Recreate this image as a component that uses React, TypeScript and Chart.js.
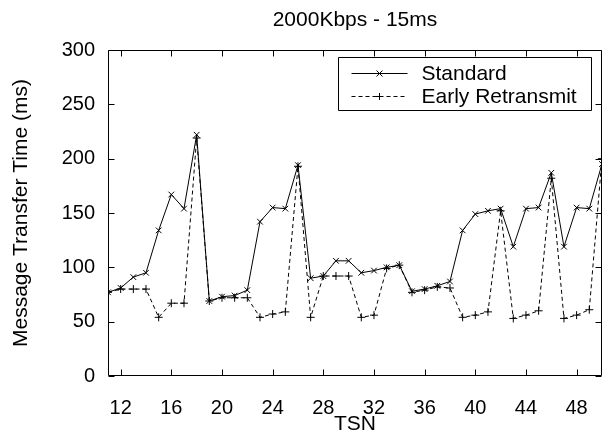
import React, { useEffect, useRef } from "react";
import { Chart, registerables } from "chart.js";

Chart.register(...registerables);

const TITLE = "2000Kbps - 15ms";
const X_LABEL = "TSN";
const Y_LABEL = "Message Transfer Time (ms)";
const SERIES_NAMES = ["Standard", "Early Retransmit"];

const TSN = [11, 12, 13, 14, 15, 16, 17, 18, 19, 20, 21, 22, 23, 24, 25, 26, 27, 28, 29, 30, 31, 32, 33, 34, 35, 36, 37, 38, 39, 40, 41, 42, 43, 44, 45, 46, 47, 48, 49, 50];
const STANDARD = [77, 81, 91, 95, 134, 167, 154, 222, 69, 73, 74, 79, 142, 155, 154, 194, 90, 92, 106, 106, 95, 97, 100, 102, 78, 80, 83, 87, 134, 149, 152, 154, 119, 154, 155, 187, 119, 155, 154, 195];
const EARLY_RETRANSMIT = [77, 80, 80, 80, 54, 67, 67, 219, 69, 72, 72, 72, 54, 57, 59, 193, 54, 92, 92, 92, 54, 56, 99, 102, 77, 79, 82, 81, 54, 56, 59, 152, 53, 56, 60, 182, 53, 56, 61, 200];

const X_TICKS = [12, 16, 20, 24, 28, 32, 36, 40, 44, 48];
const Y_TICKS = [0, 50, 100, 150, 200, 250, 300];
const X_MIN = 11;
const X_MAX = 50;
const Y_MIN = 0;
const Y_MAX = 300;

const FONT = "'Liberation Sans', Arial, Helvetica, sans-serif";
const TICK_SIZE = 20;
const LABEL_SIZE = 21;

function drawMarker(ctx: CanvasRenderingContext2D, style: string, cx: number, cy: number, r: number) {
  ctx.beginPath();
  if (style === "crossRot") {
    ctx.moveTo(cx - r, cy - r);
    ctx.lineTo(cx + r, cy + r);
    ctx.moveTo(cx - r, cy + r);
    ctx.lineTo(cx + r, cy - r);
  } else {
    ctx.moveTo(cx - r, cy);
    ctx.lineTo(cx + r, cy);
    ctx.moveTo(cx, cy - r);
    ctx.lineTo(cx, cy + r);
  }
  ctx.stroke();
}

const framePlugin = {
  id: "frameTicks",
  afterDatasetsDraw(chart: any) {
    const { ctx, chartArea: a, scales } = chart;
    ctx.save();
    ctx.strokeStyle = "#000";
    ctx.lineWidth = 1;
    ctx.setLineDash([]);
    const L = Math.round(a.left) + 0.5;
    const R = Math.round(a.right) - 0.5;
    const T = Math.round(a.top) + 0.5;
    const B = Math.round(a.bottom) - 0.5;
    ctx.beginPath();
    ctx.rect(L, T, R - L, B - T);
    ctx.stroke();
    const tl = 6;
    ctx.beginPath();
    for (const v of X_TICKS) {
      const px = Math.round(scales.x.getPixelForValue(v)) + 0.5;
      ctx.moveTo(px, B);
      ctx.lineTo(px, B - tl);
      ctx.moveTo(px, T);
      ctx.lineTo(px, T + tl);
    }
    for (const v of Y_TICKS) {
      const py = Math.round(scales.y.getPixelForValue(v)) + 0.5;
      ctx.moveTo(L, py);
      ctx.lineTo(L + tl, py);
      ctx.moveTo(R, py);
      ctx.lineTo(R - tl, py);
    }
    ctx.stroke();

    // title centred over the plot area
    ctx.fillStyle = "#000";
    ctx.font = `${LABEL_SIZE}px ${FONT}`;
    ctx.textAlign = "center";
    ctx.textBaseline = "middle";
    ctx.fillText(TITLE, (a.left + a.right) / 2, 20);

    // legend box
    const boxRight = Math.round(a.right) - 10.5;
    const boxLeft = boxRight - 253;
    const boxTop = Math.round(a.top) + 7.5;
    const boxBottom = boxTop + 53;
    ctx.fillStyle = "#fff";
    ctx.fillRect(boxLeft, boxTop, boxRight - boxLeft, boxBottom - boxTop);
    ctx.beginPath();
    ctx.rect(boxLeft, boxTop, boxRight - boxLeft, boxBottom - boxTop);
    ctx.stroke();
    const rows = [
      { name: SERIES_NAMES[0], dash: [] as number[], marker: "crossRot", r: 3 },
      { name: SERIES_NAMES[1], dash: [4, 3], marker: "cross", r: 3.5 },
    ];
    ctx.font = `${LABEL_SIZE}px ${FONT}`;
    ctx.textBaseline = "middle";
    ctx.textAlign = "left";
    rows.forEach((row, i) => {
      const y = Math.round(boxTop + 15 + i * 23) + 0.5;
      const x0 = boxLeft + 13;
      const x1 = boxLeft + 69;
      ctx.setLineDash(row.dash);
      ctx.beginPath();
      ctx.moveTo(x0, y);
      ctx.lineTo(x1, y);
      ctx.stroke();
      ctx.setLineDash([]);
      drawMarker(ctx, row.marker, (x0 + x1) / 2, y, row.r);
      ctx.fillStyle = "#000";
      ctx.fillText(row.name, boxLeft + 83, y + 1);
    });
    ctx.restore();
  },
};

export default function App() {
  const ref = useRef<HTMLCanvasElement | null>(null);
  useEffect(() => {
    document.body.style.margin = "0";
    const canvas = ref.current;
    if (!canvas) return;
    const tickFont = { family: FONT, size: TICK_SIZE, weight: "normal" as const };
    const labelFont = { family: FONT, size: LABEL_SIZE, weight: "normal" as const };
    const chart = new Chart(canvas, {
      type: "line",
      data: {
        datasets: [
          {
            label: SERIES_NAMES[0],
            data: TSN.map((x, i) => ({ x, y: STANDARD[i] })),
            borderColor: "#000",
            backgroundColor: "#000",
            borderWidth: 1,
            pointStyle: "crossRot",
            pointRadius: 4,
            pointBorderColor: "#000",
            pointBorderWidth: 1,
            tension: 0,
            fill: false,
          },
          {
            label: SERIES_NAMES[1],
            data: TSN.map((x, i) => ({ x, y: EARLY_RETRANSMIT[i] })),
            borderColor: "#000",
            backgroundColor: "#000",
            borderWidth: 1,
            borderDash: [4, 3],
            pointStyle: "cross",
            pointRadius: 4,
            pointBorderColor: "#000",
            pointBorderWidth: 1,
            tension: 0,
            fill: false,
          },
        ],
      },
      options: {
        animation: false,
        responsive: false,
        maintainAspectRatio: false,
        layout: { padding: { left: 0, right: 1, top: 50, bottom: 0 } },
        plugins: {
          legend: { display: false },
          tooltip: { enabled: false },
          title: { display: false },
        },
        scales: {
          x: {
            type: "linear",
            min: X_MIN,
            max: X_MAX,
            grid: { display: false, drawTicks: false },
            border: { display: false },
            ticks: { color: "#000", font: tickFont, padding: 20, autoSkip: false, maxRotation: 0 },
            afterBuildTicks: (s: any) => {
              s.ticks = X_TICKS.map((v) => ({ value: v }));
            },
            afterFit: (s: any) => {
              s.height = 61;
            },
            title: { display: true, text: X_LABEL, color: "#000", font: labelFont, padding: { top: 0, bottom: 0 } },
          },
          y: {
            type: "linear",
            min: Y_MIN,
            max: Y_MAX,
            grid: { display: false, drawTicks: false },
            border: { display: false },
            ticks: { color: "#000", font: tickFont, padding: 13 },
            afterBuildTicks: (s: any) => {
              s.ticks = Y_TICKS.map((v) => ({ value: v }));
            },
            afterFit: (s: any) => {
              s.width = 108;
            },
            title: { display: true, text: Y_LABEL, color: "#000", font: labelFont, padding: { top: 9, bottom: 0 } },
          },
        },
      },
      plugins: [framePlugin],
    });
    return () => chart.destroy();
  }, []);
  return (
    <div style={{ width: 608, height: 437, position: "relative" }}>
      <canvas ref={ref} width={608} height={437} style={{ display: "block", width: 608, height: 437 }} />
    </div>
  );
}
